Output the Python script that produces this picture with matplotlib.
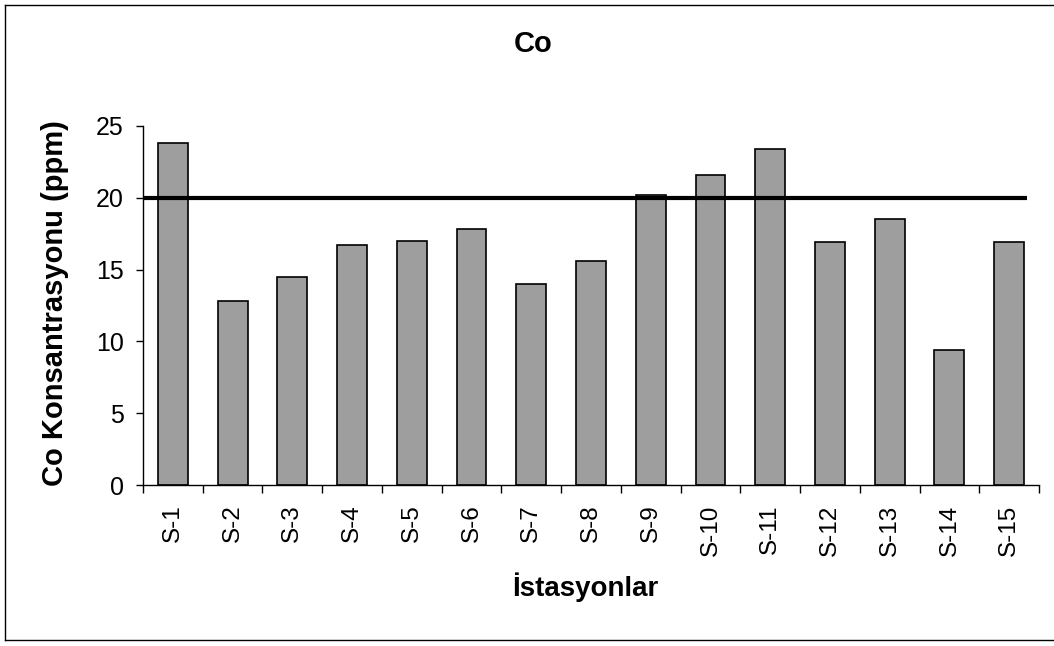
import matplotlib
matplotlib.use("Agg")
import matplotlib.pyplot as plt
from matplotlib.lines import Line2D
import numpy as np

stations = ["S-1", "S-2", "S-3", "S-4", "S-5", "S-6", "S-7", "S-8",
            "S-9", "S-10", "S-11", "S-12", "S-13", "S-14", "S-15"]
co_ppm = [23.8, 12.8, 14.5, 16.7, 17.0, 17.8, 14.0, 15.6,
          20.2, 21.6, 23.4, 16.9, 18.5, 9.4, 16.9]
limit_ppm = 20.0

plt.rcParams["font.family"] = ["Liberation Sans", "DejaVu Sans"]

fig = plt.figure(figsize=(10.54, 6.46), dpi=100)
ax = fig.add_axes([0.1357, 0.2492, 0.8501, 0.5558])

x = np.arange(len(stations))
ax.bar(x, co_ppm, width=0.5, color="#9e9e9e", edgecolor="black", linewidth=1.2, zorder=2)
ax.hlines(limit_ppm, x[0] - 0.5, x[-1] + 0.3, color="black", linewidth=3.0, zorder=3)

ax.set_xlim(-0.5, len(stations) - 0.5)
ax.set_ylim(0, 25)
ax.set_yticks([0, 5, 10, 15, 20, 25])
ax.tick_params(axis="y", labelsize=18, length=5, width=1, pad=9, direction="out")

ax.set_xticks(x)
ax.set_xticklabels(stations, rotation=90)
ax.set_xticks(np.arange(len(stations) + 1) - 0.5, minor=True)
ax.tick_params(axis="x", which="major", length=0, labelsize=17.5, pad=14)
ax.tick_params(axis="x", which="minor", length=6, width=1, direction="out")

for side in ("top", "right"):
    ax.spines[side].set_visible(False)
for side in ("left", "bottom"):
    ax.spines[side].set_linewidth(1.0)

fig.text(0.506, 0.932, "Co", ha="center", va="center", fontsize=21, fontweight="bold")
fig.text(0.052, 0.531, "Co Konsantrasyonu (ppm)", ha="center", va="center",
         rotation=90, fontsize=21, fontweight="bold")
fig.text(0.555, 0.091, "İstasyonlar", ha="center", va="center", fontsize=20, fontweight="bold")

# thin frame drawn around the chart area
frame = dict(color="black", linewidth=1.0, transform=fig.transFigure)
fig.add_artist(Line2D([0.005, 1.0], [0.992, 0.992], **frame))
fig.add_artist(Line2D([0.005, 0.005], [0.009, 0.992], **frame))
fig.add_artist(Line2D([0.005, 1.0], [0.009, 0.009], **frame))

fig.savefig("out.png", dpi=100)
